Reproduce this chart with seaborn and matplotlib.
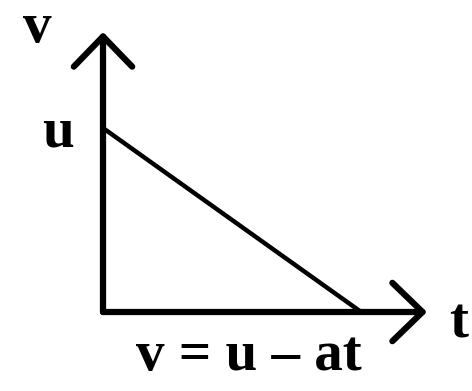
import matplotlib
matplotlib.use("Agg")
import matplotlib.pyplot as plt
import seaborn as sns

# v = u - at : velocity falls linearly from u to zero
t_vals = [0.0, 1.0]
v_vals = [1.0, 0.0]
axis_labels = ["v", "t"]
start_label = "u"
formula = "v = u \u2013 at"

sns.set_theme(style="white")
plt.rcParams['font.family'] = ['Liberation Serif', 'DejaVu Serif']
plt.rcParams['font.weight'] = 'bold'

W, H = 472, 391
fig = plt.figure(figsize=(W / 100, H / 100), dpi=100)
fig.patch.set_facecolor("white")

# axes box: origin at (103, 312) px, arrow tips at x=427 and y=32
ax = fig.add_axes([103 / W, (H - 312) / H, (427 - 103) / W, (312 - 32) / H])
ax.set_facecolor("none")

sns.lineplot(x=t_vals, y=v_vals, ax=ax, color="black", linewidth=3.2,
             solid_capstyle="butt")
ax.set_xlim(0, 1.255)
ax.set_ylim(0, 1.522)
ax.set_xticks([])
ax.set_yticks([])
ax.set_xlabel("")
ax.set_ylabel("")
for s in ax.spines.values():
    s.set_visible(False)

arrow = dict(arrowstyle="->,head_length=1.55,head_width=1.5", lw=4.5,
             color="black", shrinkA=0, shrinkB=0, mutation_scale=14)
ax.annotate("", xy=(0, 1), xytext=(0, 0), xycoords="axes fraction",
            arrowprops=arrow)
ax.annotate("", xy=(1, 0), xytext=(0, 0), xycoords="axes fraction",
            arrowprops=arrow)

fs = 41
txt = dict(fontsize=fs, fontweight="bold", color="black", va="baseline",
           ha="center")
fig.text(37 / W, 1 - 42 / H, axis_labels[0], **txt)
fig.text(58 / W, 1 - 147 / H, start_label, **txt)
fig.text(459 / W, 1 - 337 / H, axis_labels[1], **txt)
fig.text(249 / W, 1 - 370 / H, formula, **txt)

fig.savefig("out.png", dpi=100, facecolor="white")
